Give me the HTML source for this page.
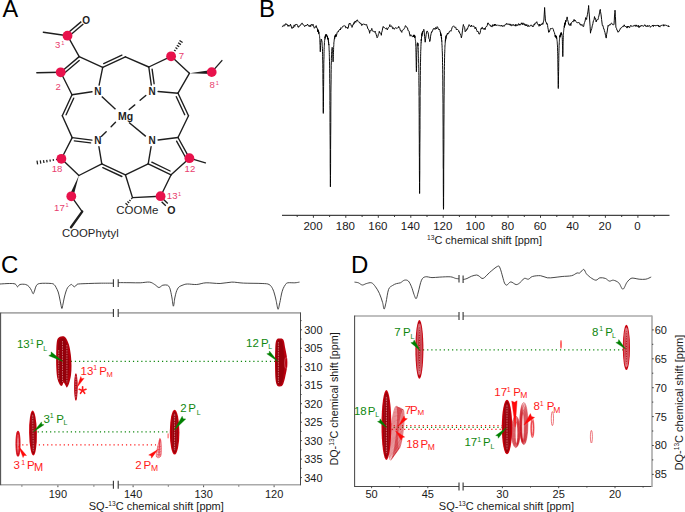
<!DOCTYPE html>
<html><head><meta charset="utf-8"><style>
html,body{margin:0;padding:0;background:#fff;width:685px;height:512px;overflow:hidden;}
svg{display:block;font-family:"Liberation Sans", sans-serif;}
</style></head><body>
<svg width="685" height="512" viewBox="0 0 685 512" font-family='"Liberation Sans", sans-serif'><text x="2.5" y="16.6" font-size="23.5" fill="#000" text-anchor="start" font-weight="normal" >A</text>
<text x="259.0" y="16.6" font-size="24" fill="#000" text-anchor="start" font-weight="normal" >B</text>
<text x="1.1" y="272.5" font-size="24" fill="#000" text-anchor="start" font-weight="normal" >C</text>
<text x="350.9" y="272.7" font-size="24" fill="#000" text-anchor="start" font-weight="normal" >D</text>
<g><line x1="72.0" y1="94.7" x2="60.7" y2="72.3" stroke="#1e1e1e" stroke-width="1.38" stroke-linecap="round"/><line x1="60.7" y1="72.3" x2="79.2" y2="56.6" stroke="#1e1e1e" stroke-width="1.38" stroke-linecap="round"/><line x1="64.5" y1="73.0" x2="79.2" y2="60.5" stroke="#1e1e1e" stroke-width="1.38" stroke-linecap="round"/><line x1="79.2" y1="56.6" x2="102.7" y2="67.4" stroke="#1e1e1e" stroke-width="1.38" stroke-linecap="round"/><line x1="102.7" y1="67.4" x2="99.1" y2="85.1" stroke="#1e1e1e" stroke-width="1.38" stroke-linecap="round"/><line x1="92.0" y1="91.8" x2="72.0" y2="94.7" stroke="#1e1e1e" stroke-width="1.38" stroke-linecap="round"/><line x1="102.7" y1="67.4" x2="125.4" y2="56.8" stroke="#1e1e1e" stroke-width="1.38" stroke-linecap="round"/><line x1="103.7" y1="63.6" x2="121.9" y2="55.1" stroke="#1e1e1e" stroke-width="1.38" stroke-linecap="round"/><line x1="125.4" y1="56.8" x2="148.8" y2="67.0" stroke="#1e1e1e" stroke-width="1.38" stroke-linecap="round"/><line x1="148.8" y1="67.0" x2="171.1" y2="56.3" stroke="#1e1e1e" stroke-width="1.38" stroke-linecap="round"/><line x1="171.1" y1="56.3" x2="189.4" y2="73.3" stroke="#1e1e1e" stroke-width="1.38" stroke-linecap="round"/><line x1="189.4" y1="73.3" x2="178.0" y2="93.2" stroke="#1e1e1e" stroke-width="1.38" stroke-linecap="round"/><line x1="178.0" y1="93.2" x2="158.1" y2="91.5" stroke="#1e1e1e" stroke-width="1.38" stroke-linecap="round"/><line x1="151.3" y1="85.1" x2="148.8" y2="67.0" stroke="#1e1e1e" stroke-width="1.38" stroke-linecap="round"/><line x1="154.1" y1="83.7" x2="152.1" y2="69.1" stroke="#1e1e1e" stroke-width="1.38" stroke-linecap="round"/><line x1="178.0" y1="93.2" x2="188.5" y2="115.7" stroke="#1e1e1e" stroke-width="1.38" stroke-linecap="round"/><line x1="176.3" y1="96.7" x2="184.7" y2="114.7" stroke="#1e1e1e" stroke-width="1.38" stroke-linecap="round"/><line x1="188.5" y1="115.7" x2="178.0" y2="137.5" stroke="#1e1e1e" stroke-width="1.38" stroke-linecap="round"/><line x1="178.0" y1="137.5" x2="189.4" y2="158.2" stroke="#1e1e1e" stroke-width="1.38" stroke-linecap="round"/><line x1="176.6" y1="141.1" x2="185.6" y2="157.5" stroke="#1e1e1e" stroke-width="1.38" stroke-linecap="round"/><line x1="189.4" y1="158.2" x2="171.1" y2="174.8" stroke="#1e1e1e" stroke-width="1.38" stroke-linecap="round"/><line x1="171.1" y1="174.8" x2="148.2" y2="163.8" stroke="#1e1e1e" stroke-width="1.38" stroke-linecap="round"/><line x1="170.1" y1="171.0" x2="151.8" y2="162.2" stroke="#1e1e1e" stroke-width="1.38" stroke-linecap="round"/><line x1="148.2" y1="163.8" x2="151.1" y2="146.7" stroke="#1e1e1e" stroke-width="1.38" stroke-linecap="round"/><line x1="158.1" y1="140.0" x2="178.0" y2="137.5" stroke="#1e1e1e" stroke-width="1.38" stroke-linecap="round"/><line x1="171.1" y1="174.8" x2="160.6" y2="196.2" stroke="#1e1e1e" stroke-width="1.38" stroke-linecap="round"/><line x1="160.6" y1="196.2" x2="132.5" y2="197.6" stroke="#1e1e1e" stroke-width="1.38" stroke-linecap="round"/><line x1="132.5" y1="197.6" x2="125.4" y2="174.8" stroke="#1e1e1e" stroke-width="1.38" stroke-linecap="round"/><line x1="125.4" y1="174.8" x2="148.2" y2="163.8" stroke="#1e1e1e" stroke-width="1.38" stroke-linecap="round"/><line x1="125.4" y1="174.8" x2="101.8" y2="163.8" stroke="#1e1e1e" stroke-width="1.38" stroke-linecap="round"/><line x1="121.9" y1="176.5" x2="102.8" y2="167.6" stroke="#1e1e1e" stroke-width="1.38" stroke-linecap="round"/><line x1="101.8" y1="163.8" x2="78.9" y2="175.5" stroke="#1e1e1e" stroke-width="1.38" stroke-linecap="round"/><line x1="78.9" y1="175.5" x2="61.4" y2="158.8" stroke="#1e1e1e" stroke-width="1.38" stroke-linecap="round"/><line x1="61.4" y1="158.8" x2="72.2" y2="137.6" stroke="#1e1e1e" stroke-width="1.38" stroke-linecap="round"/><line x1="72.2" y1="137.6" x2="91.9" y2="140.1" stroke="#1e1e1e" stroke-width="1.38" stroke-linecap="round"/><line x1="74.3" y1="140.9" x2="90.6" y2="142.9" stroke="#1e1e1e" stroke-width="1.38" stroke-linecap="round"/><line x1="98.9" y1="146.7" x2="101.8" y2="163.8" stroke="#1e1e1e" stroke-width="1.38" stroke-linecap="round"/><line x1="72.2" y1="137.6" x2="62.3" y2="115.8" stroke="#1e1e1e" stroke-width="1.38" stroke-linecap="round"/><line x1="62.3" y1="115.8" x2="72.0" y2="94.7" stroke="#1e1e1e" stroke-width="1.38" stroke-linecap="round"/><line x1="66.1" y1="114.8" x2="73.7" y2="98.2" stroke="#1e1e1e" stroke-width="1.38" stroke-linecap="round"/><line x1="101.8" y1="96.4" x2="115.5" y2="109.3" stroke="#1e1e1e" stroke-width="1.38"/><line x1="129.0" y1="122.5" x2="145.8" y2="136.4" stroke="#1e1e1e" stroke-width="1.38"/><line x1="145.8" y1="95.4" x2="140.1" y2="100.3" stroke="#1e1e1e" stroke-width="1.38" stroke-linecap="round"/><line x1="134.8" y1="104.9" x2="129.2" y2="109.5" stroke="#1e1e1e" stroke-width="1.38" stroke-linecap="round"/><line x1="115.5" y1="122.2" x2="111.1" y2="126.8" stroke="#1e1e1e" stroke-width="1.38" stroke-linecap="round"/><line x1="106.2" y1="131.7" x2="101.6" y2="136.3" stroke="#1e1e1e" stroke-width="1.38" stroke-linecap="round"/><line x1="36.8" y1="72.7" x2="60.7" y2="72.3" stroke="#1e1e1e" stroke-width="1.38" stroke-linecap="round"/><line x1="79.2" y1="56.6" x2="67.5" y2="35.7" stroke="#1e1e1e" stroke-width="1.38" stroke-linecap="round"/><line x1="43.3" y1="32.2" x2="67.5" y2="35.7" stroke="#1e1e1e" stroke-width="1.38" stroke-linecap="round"/><line x1="69.5" y1="35.7" x2="83.3" y2="24.0" stroke="#1e1e1e" stroke-width="1.38"/><line x1="67.5" y1="33.3" x2="81.3" y2="21.6" stroke="#1e1e1e" stroke-width="1.38"/><text x="86.2" y="24.2" font-size="10" fill="#1e1e1e" text-anchor="middle" font-weight="bold" >O</text><line x1="171.4" y1="54.9" x2="172.3" y2="55.4" stroke="#1e1e1e" stroke-width="1.25"/><line x1="172.8" y1="52.5" x2="174.0" y2="53.3" stroke="#1e1e1e" stroke-width="1.25"/><line x1="174.1" y1="50.0" x2="175.7" y2="51.1" stroke="#1e1e1e" stroke-width="1.25"/><line x1="175.5" y1="47.6" x2="177.4" y2="49.0" stroke="#1e1e1e" stroke-width="1.25"/><line x1="176.8" y1="45.2" x2="179.2" y2="46.8" stroke="#1e1e1e" stroke-width="1.25"/><line x1="178.1" y1="42.8" x2="180.9" y2="44.6" stroke="#1e1e1e" stroke-width="1.25"/><line x1="179.5" y1="40.4" x2="182.6" y2="42.5" stroke="#1e1e1e" stroke-width="1.25"/><polygon points="189.4,73.3 211.8,74.1 211.6,70.1" fill="#1e1e1e"/><line x1="211.7" y1="72.1" x2="221.9" y2="60.6" stroke="#1e1e1e" stroke-width="1.38" stroke-linecap="round"/><line x1="189.4" y1="158.2" x2="205.4" y2="162.8" stroke="#1e1e1e" stroke-width="1.38" stroke-linecap="round"/><line x1="59.9" y1="159.5" x2="59.7" y2="158.6" stroke="#1e1e1e" stroke-width="1.25"/><line x1="56.7" y1="160.2" x2="56.5" y2="158.9" stroke="#1e1e1e" stroke-width="1.25"/><line x1="53.5" y1="160.9" x2="53.2" y2="159.2" stroke="#1e1e1e" stroke-width="1.25"/><line x1="50.3" y1="161.6" x2="50.0" y2="159.5" stroke="#1e1e1e" stroke-width="1.25"/><line x1="47.1" y1="162.3" x2="46.7" y2="159.8" stroke="#1e1e1e" stroke-width="1.25"/><line x1="44.0" y1="163.0" x2="43.5" y2="160.1" stroke="#1e1e1e" stroke-width="1.25"/><line x1="40.8" y1="163.7" x2="40.3" y2="160.4" stroke="#1e1e1e" stroke-width="1.25"/><line x1="37.6" y1="164.4" x2="37.0" y2="160.7" stroke="#1e1e1e" stroke-width="1.25"/><polygon points="78.9,175.5 69.4,195.6 73.2,197.0" fill="#1e1e1e"/><line x1="71.3" y1="196.3" x2="82.2" y2="211.6" stroke="#1e1e1e" stroke-width="1.38" stroke-linecap="round"/><line x1="82.2" y1="211.6" x2="71.0" y2="227.3" stroke="#1e1e1e" stroke-width="2.4" stroke-linecap="round"/><line x1="132.1" y1="198.9" x2="131.2" y2="198.2" stroke="#1e1e1e" stroke-width="1.25"/><line x1="130.6" y1="201.0" x2="129.3" y2="199.9" stroke="#1e1e1e" stroke-width="1.25"/><line x1="129.2" y1="203.1" x2="127.4" y2="201.6" stroke="#1e1e1e" stroke-width="1.25"/><line x1="127.8" y1="205.2" x2="125.5" y2="203.3" stroke="#1e1e1e" stroke-width="1.25"/><line x1="161.6" y1="201.7" x2="165.8" y2="205.7" stroke="#1e1e1e" stroke-width="1.38"/><line x1="163.6" y1="199.5" x2="167.8" y2="203.5" stroke="#1e1e1e" stroke-width="1.38"/><text x="97.9" y="94.6" font-size="10" fill="#1e1e1e" text-anchor="middle" font-weight="bold" >N</text><text x="152.1" y="94.6" font-size="10" fill="#1e1e1e" text-anchor="middle" font-weight="bold" >N</text><text x="152.1" y="144.4" font-size="10" fill="#1e1e1e" text-anchor="middle" font-weight="bold" >N</text><text x="97.9" y="144.4" font-size="10" fill="#1e1e1e" text-anchor="middle" font-weight="bold" >N</text><text x="125.5" y="120.3" font-size="10.5" fill="#1e1e1e" text-anchor="middle" font-weight="bold" >Mg</text><text x="171.4" y="214.4" font-size="10.6" fill="#1e1e1e" text-anchor="middle" font-weight="bold" >O</text><text x="116.3" y="214.3" font-size="10.2" fill="#1e1e1e" text-anchor="start" font-weight="normal" textLength="42" lengthAdjust="spacingAndGlyphs">COOMe</text><text x="62.1" y="236.9" font-size="11" fill="#1e1e1e" text-anchor="start" font-weight="normal" textLength="56.6" lengthAdjust="spacingAndGlyphs">COOPhytyl</text><circle cx="67.5" cy="35.7" r="4.9" fill="#e8124c"/><circle cx="60.7" cy="72.3" r="4.9" fill="#e8124c"/><circle cx="171.1" cy="56.3" r="4.9" fill="#e8124c"/><circle cx="211.7" cy="72.1" r="4.9" fill="#e8124c"/><circle cx="61.4" cy="158.8" r="4.9" fill="#e8124c"/><circle cx="71.3" cy="196.3" r="4.9" fill="#e8124c"/><circle cx="189.4" cy="158.2" r="4.9" fill="#e8124c"/><circle cx="160.6" cy="196.2" r="4.9" fill="#e8124c"/><text x="55.04" y="47.90" font-size="9.6" fill="#e8406e">3</text><text x="61.17" y="44.60" font-size="5.6" fill="#e8406e">1</text><text x="55.42" y="89.70" font-size="9.6" fill="#e8406e">2</text><text x="178.81" y="58.80" font-size="9.6" fill="#e8406e">7</text><text x="209.59" y="88.00" font-size="9.6" fill="#e8406e">8</text><text x="215.87" y="84.60" font-size="5.6" fill="#e8406e">1</text><text x="51.67" y="171.70" font-size="9.6" fill="#e8406e">18</text><text x="54.07" y="210.60" font-size="9.6" fill="#e8406e">17</text><text x="65.57" y="207.30" font-size="5.6" fill="#e8406e">1</text><text x="184.57" y="172.20" font-size="9.6" fill="#e8406e">12</text><text x="166.87" y="198.80" font-size="9.6" fill="#e8406e">13</text><text x="178.07" y="195.60" font-size="5.6" fill="#e8406e">1</text></g>
<line x1="282.0" y1="215.4" x2="669.5" y2="215.4" stroke="#444" stroke-width="1.1"/>
<line x1="654.1" y1="215.5" x2="654.1" y2="217.0" stroke="#222" stroke-width="0.9"/>
<line x1="637.9" y1="215.5" x2="637.9" y2="217.8" stroke="#222" stroke-width="0.9"/>
<line x1="621.7" y1="215.5" x2="621.7" y2="217.0" stroke="#222" stroke-width="0.9"/>
<line x1="605.4" y1="215.5" x2="605.4" y2="217.8" stroke="#222" stroke-width="0.9"/>
<line x1="589.2" y1="215.5" x2="589.2" y2="217.0" stroke="#222" stroke-width="0.9"/>
<line x1="573.0" y1="215.5" x2="573.0" y2="217.8" stroke="#222" stroke-width="0.9"/>
<line x1="556.8" y1="215.5" x2="556.8" y2="217.0" stroke="#222" stroke-width="0.9"/>
<line x1="540.5" y1="215.5" x2="540.5" y2="217.8" stroke="#222" stroke-width="0.9"/>
<line x1="524.3" y1="215.5" x2="524.3" y2="217.0" stroke="#222" stroke-width="0.9"/>
<line x1="508.1" y1="215.5" x2="508.1" y2="217.8" stroke="#222" stroke-width="0.9"/>
<line x1="491.9" y1="215.5" x2="491.9" y2="217.0" stroke="#222" stroke-width="0.9"/>
<line x1="475.6" y1="215.5" x2="475.6" y2="217.8" stroke="#222" stroke-width="0.9"/>
<line x1="459.4" y1="215.5" x2="459.4" y2="217.0" stroke="#222" stroke-width="0.9"/>
<line x1="443.2" y1="215.5" x2="443.2" y2="217.8" stroke="#222" stroke-width="0.9"/>
<line x1="427.0" y1="215.5" x2="427.0" y2="217.0" stroke="#222" stroke-width="0.9"/>
<line x1="410.8" y1="215.5" x2="410.8" y2="217.8" stroke="#222" stroke-width="0.9"/>
<line x1="394.5" y1="215.5" x2="394.5" y2="217.0" stroke="#222" stroke-width="0.9"/>
<line x1="378.3" y1="215.5" x2="378.3" y2="217.8" stroke="#222" stroke-width="0.9"/>
<line x1="362.1" y1="215.5" x2="362.1" y2="217.0" stroke="#222" stroke-width="0.9"/>
<line x1="345.8" y1="215.5" x2="345.8" y2="217.8" stroke="#222" stroke-width="0.9"/>
<line x1="329.6" y1="215.5" x2="329.6" y2="217.0" stroke="#222" stroke-width="0.9"/>
<line x1="313.4" y1="215.5" x2="313.4" y2="217.8" stroke="#222" stroke-width="0.9"/>
<line x1="297.2" y1="215.5" x2="297.2" y2="217.0" stroke="#222" stroke-width="0.9"/>
<text x="313.0" y="229.8" font-size="11.5" fill="#1a1a1a" text-anchor="middle" font-weight="normal" >200</text>
<text x="345.4" y="229.8" font-size="11.5" fill="#1a1a1a" text-anchor="middle" font-weight="normal" >180</text>
<text x="377.9" y="229.8" font-size="11.5" fill="#1a1a1a" text-anchor="middle" font-weight="normal" >160</text>
<text x="410.4" y="229.8" font-size="11.5" fill="#1a1a1a" text-anchor="middle" font-weight="normal" >140</text>
<text x="442.8" y="229.8" font-size="11.5" fill="#1a1a1a" text-anchor="middle" font-weight="normal" >120</text>
<text x="475.2" y="229.8" font-size="11.5" fill="#1a1a1a" text-anchor="middle" font-weight="normal" >100</text>
<text x="507.7" y="229.8" font-size="11.5" fill="#1a1a1a" text-anchor="middle" font-weight="normal" >80</text>
<text x="540.1" y="229.8" font-size="11.5" fill="#1a1a1a" text-anchor="middle" font-weight="normal" >60</text>
<text x="572.6" y="229.8" font-size="11.5" fill="#1a1a1a" text-anchor="middle" font-weight="normal" >40</text>
<text x="605.0" y="229.8" font-size="11.5" fill="#1a1a1a" text-anchor="middle" font-weight="normal" >20</text>
<text x="637.5" y="229.8" font-size="11.5" fill="#1a1a1a" text-anchor="middle" font-weight="normal" >0</text>
<text x="427.0" y="244.3" font-size="11.5" fill="#1a1a1a" textLength="115" lengthAdjust="spacingAndGlyphs"><tspan font-size="7" dy="-4">13</tspan><tspan dy="4">C chemical shift [ppm]</tspan></text>
<polyline points="282.1,27.1 282.6,26.3 283.2,25.5 283.8,26.3 284.1,25.7 284.3,24.6 284.9,25.4 285.4,24.6 285.9,23.5 286.2,24.4 286.5,24.8 287.1,24.2 287.6,25.7 288.1,25.4 288.2,26.4 288.7,25.1 289.2,25.6 289.8,26.2 290.3,25.0 290.4,24.2 290.9,25.2 291.4,27.0 292.0,28.5 292.3,27.8 292.6,27.8 293.1,26.8 293.6,27.6 294.2,24.9 294.4,25.7 294.8,26.4 295.3,24.7 295.9,24.0 296.4,24.5 296.9,24.2 297.5,25.4 298.1,27.3 298.5,27.2 298.6,26.3 299.1,26.7 299.7,26.2 300.2,25.0 300.5,25.1 300.8,25.0 301.4,23.5 301.9,23.2 302.4,23.2 302.6,23.8 303.0,24.8 303.6,24.9 304.1,25.4 304.6,26.5 304.6,26.7 305.2,26.0 305.8,25.2 306.3,26.0 306.9,25.3 307.3,24.5 307.4,24.0 307.9,25.1 308.5,25.4 309.1,26.5 309.4,25.9 309.6,26.3 310.1,25.1 310.7,26.6 311.2,24.3 311.8,24.8 312.4,25.4 312.8,24.7 312.9,24.1 313.4,26.3 314.0,26.5 314.2,28.2 314.6,28.1 315.1,27.6 315.6,26.4 316.2,25.6 316.8,28.0 317.3,28.2 317.4,29.3 317.4,29.3 317.5,29.4 317.5,29.3 317.6,30.4 317.7,30.8 317.7,29.9 317.8,30.5 317.8,29.3 317.9,30.8 317.9,30.8 318.0,31.9 318.0,31.6 318.1,30.5 318.1,31.0 318.2,31.9 318.3,30.5 318.3,31.8 318.3,31.7 318.4,31.2 318.4,31.1 318.4,31.0 318.5,32.8 318.6,31.5 318.6,31.9 318.7,32.4 318.7,33.7 318.8,31.9 318.9,33.1 318.9,33.3 318.9,33.6 319.0,33.6 319.0,33.9 319.1,33.8 319.2,34.1 319.2,34.3 319.3,34.8 319.3,35.2 319.4,35.3 319.5,35.5 319.5,35.8 319.5,36.0 319.6,36.5 319.6,37.2 319.7,38.0 319.8,38.7 319.8,39.5 319.9,40.9 319.9,42.3 320.0,44.1 320.1,45.8 320.1,46.0 320.1,48.0 320.2,49.9 320.2,51.4 320.3,51.7 320.4,51.8 320.4,50.6 320.5,49.0 320.5,47.2 320.6,45.4 320.7,44.1 320.7,42.8 320.8,42.2 320.8,41.2 320.9,40.7 321.0,40.4 321.0,40.3 321.0,40.0 321.1,39.8 321.1,39.5 321.1,39.4 321.2,39.3 321.3,39.2 321.3,39.3 321.4,39.1 321.4,39.6 321.5,39.5 321.6,39.4 321.6,39.6 321.7,39.9 321.7,39.9 321.7,40.0 321.8,41.3 321.9,41.1 321.9,41.2 322.0,41.7 322.0,41.9 322.0,42.1 322.1,42.8 322.2,43.7 322.2,44.5 322.2,45.3 322.3,45.5 322.3,46.6 322.4,48.5 322.5,50.0 322.5,51.7 322.6,54.2 322.6,56.7 322.7,60.1 322.8,64.2 322.8,67.0 322.8,68.5 322.9,73.6 322.9,79.8 323.0,86.5 323.1,94.1 323.1,101.2 323.2,107.7 323.2,111.9 323.3,113.4 323.4,112.6 323.4,112.2 323.4,107.7 323.5,101.2 323.5,94.0 323.6,86.6 323.7,79.4 323.7,73.4 323.8,68.0 323.8,63.3 323.9,59.5 324.0,56.3 324.0,53.6 324.1,51.4 324.1,49.6 324.2,47.6 324.3,46.4 324.3,45.2 324.4,44.0 324.4,42.8 324.4,42.6 324.5,41.9 324.6,41.1 324.6,40.5 324.7,40.1 324.7,39.7 324.8,39.9 324.9,38.6 324.9,38.6 325.0,38.7 325.0,36.8 325.0,38.0 325.1,38.4 325.2,37.8 325.2,37.5 325.3,36.6 325.3,35.7 325.4,37.0 325.5,35.8 325.5,36.7 325.6,37.1 325.6,35.6 325.6,35.5 325.7,36.7 325.8,36.1 325.8,34.7 325.9,34.5 325.9,34.5 326.0,36.2 326.1,35.9 326.1,34.3 326.1,35.9 326.2,36.2 326.2,35.4 326.5,34.9 326.6,34.8 327.2,36.4 327.4,36.0 327.5,35.9 327.5,38.4 327.6,37.8 327.6,37.7 327.7,38.9 327.8,37.9 327.8,39.0 327.8,39.1 327.9,37.9 327.9,38.7 327.9,38.2 328.0,38.5 328.1,38.6 328.1,39.7 328.2,39.2 328.2,39.8 328.3,39.4 328.4,41.6 328.4,40.7 328.5,41.3 328.5,42.0 328.6,43.3 328.7,42.6 328.7,44.4 328.8,44.0 328.8,44.8 328.9,44.9 328.9,44.4 329.0,46.4 329.0,47.2 329.1,48.2 329.1,49.8 329.2,50.9 329.3,52.6 329.3,54.6 329.4,56.6 329.4,57.2 329.4,58.9 329.5,61.7 329.6,65.1 329.6,68.5 329.7,73.2 329.7,78.3 329.8,84.5 329.9,92.0 329.9,100.5 329.9,105.4 330.0,110.8 330.0,122.5 330.1,135.3 330.2,149.4 330.2,163.2 330.3,175.3 330.3,183.9 330.4,186.8 330.5,183.8 330.5,178.7 330.5,175.6 330.6,163.4 330.6,149.7 330.7,135.9 330.8,122.6 330.8,111.1 330.9,101.3 330.9,92.7 331.0,85.1 331.1,79.9 331.1,79.2 331.1,73.8 331.2,69.6 331.2,65.8 331.3,63.0 331.4,60.4 331.4,58.2 331.5,55.9 331.5,54.5 331.6,53.1 331.7,51.6 331.7,51.0 331.8,50.1 331.8,49.1 331.9,48.8 332.0,48.1 332.0,47.8 332.1,47.8 332.1,47.7 332.1,47.3 332.2,47.5 332.3,47.7 332.3,47.9 332.4,48.2 332.4,48.9 332.5,49.8 332.6,50.4 332.6,51.8 332.7,53.0 332.7,53.3 332.7,54.5 332.8,56.2 332.9,57.8 332.9,59.2 333.0,60.9 333.0,61.6 333.1,61.8 333.2,60.9 333.2,59.9 333.2,59.0 333.3,58.6 333.3,56.5 333.4,54.4 333.5,52.6 333.5,51.0 333.6,49.3 333.6,47.5 333.7,46.1 333.8,45.3 333.8,44.5 333.8,44.2 333.9,43.0 333.9,42.2 334.0,41.8 334.1,41.1 334.1,40.4 334.2,40.4 334.2,39.8 334.3,39.5 334.4,38.9 334.4,39.2 334.4,38.5 334.5,38.6 334.5,38.2 334.6,37.6 334.7,37.9 334.7,38.6 334.8,36.8 334.8,36.4 334.9,37.2 335.0,36.3 335.0,35.9 335.1,35.9 335.1,35.5 335.2,35.8 335.3,36.0 335.3,35.9 335.4,36.9 335.4,35.7 335.4,36.2 335.5,35.3 335.6,35.7 335.6,34.8 335.7,35.3 335.7,34.7 335.8,36.4 335.9,35.9 335.9,35.0 336.0,35.6 336.0,36.7 336.0,34.7 336.1,35.6 336.6,35.1 337.1,32.7 337.4,32.2 337.6,31.8 338.2,32.0 338.8,30.3 339.3,29.9 339.9,29.8 340.2,29.0 340.4,29.9 340.9,27.7 341.5,28.3 342.1,27.4 342.6,26.6 342.9,26.0 343.1,25.9 343.7,26.0 344.2,25.6 344.8,26.0 345.4,26.1 345.6,27.3 345.9,28.1 346.4,27.3 347.0,27.4 347.6,27.6 347.7,28.7 348.1,28.0 348.6,26.0 349.0,23.8 349.2,24.2 349.8,23.1 350.0,23.5 350.3,23.5 350.9,24.7 351.4,26.1 351.9,26.5 352.0,27.4 352.5,26.0 353.1,24.2 353.6,24.5 353.9,22.6 354.1,23.6 354.7,22.1 355.2,21.0 355.8,22.4 356.4,20.4 356.8,20.6 356.9,20.3 357.4,19.9 358.0,21.3 358.6,22.0 359.1,22.5 359.6,22.2 359.8,23.1 360.2,23.6 360.8,23.1 361.3,24.4 361.7,25.5 361.9,24.4 362.4,25.1 362.9,24.1 363.5,23.9 364.1,24.5 364.6,24.2 365.1,25.0 365.7,24.7 366.2,25.1 366.6,24.5 366.8,25.4 367.4,27.0 367.9,28.9 368.4,29.2 369.0,30.5 369.5,32.3 369.6,33.3 370.1,30.5 370.6,31.1 371.2,30.1 371.5,29.4 371.8,28.4 372.3,30.8 372.9,31.3 373.4,31.1 373.9,31.7 374.5,32.3 375.1,31.1 375.4,32.3 375.6,32.8 376.1,34.2 376.7,36.4 377.2,37.8 377.3,37.2 377.8,36.5 378.4,34.3 378.9,33.4 379.3,31.3 379.4,32.0 380.0,33.1 380.6,33.1 381.1,33.7 381.3,35.3 381.6,32.8 382.2,30.8 382.8,27.6 383.2,26.5 383.3,27.3 383.9,27.1 384.4,27.7 384.9,28.1 385.5,28.6 386.1,28.6 386.6,27.8 387.1,29.4 387.1,30.0 387.7,29.2 388.2,27.8 388.8,27.2 389.4,26.7 389.9,24.6 390.0,25.5 390.4,26.5 391.0,25.8 391.6,26.0 392.1,26.9 392.6,28.6 393.0,28.4 393.2,27.6 393.8,28.8 394.3,29.3 394.9,28.1 395.4,27.7 395.9,27.8 396.5,28.2 397.1,28.4 397.6,27.9 398.1,27.9 398.7,26.4 398.8,27.4 399.2,27.3 399.8,28.5 400.4,30.6 400.9,30.4 401.4,31.9 401.8,32.4 402.0,30.8 402.6,30.0 403.1,29.6 403.6,29.6 404.2,28.7 404.8,27.7 405.3,25.8 405.7,25.7 405.9,26.0 406.4,26.8 406.9,27.7 407.5,27.9 408.1,30.7 408.6,30.7 409.1,31.4 409.7,34.8 410.2,36.2 410.5,35.8 410.8,34.6 411.4,35.6 411.9,36.4 412.4,36.7 413.0,35.5 413.4,35.2 413.5,35.1 413.5,35.8 413.5,36.9 413.6,35.1 413.6,36.0 413.6,35.0 413.7,35.9 413.8,36.9 413.8,35.0 413.9,36.6 413.9,35.9 414.0,36.9 414.1,36.4 414.1,35.3 414.1,37.0 414.2,36.0 414.2,34.9 414.3,34.9 414.4,36.2 414.4,36.1 414.5,35.9 414.5,35.6 414.6,36.1 414.6,36.2 414.7,37.4 414.7,35.5 414.8,37.5 414.8,37.8 414.9,36.3 415.0,37.6 415.0,37.7 415.1,38.0 415.1,38.0 415.2,38.3 415.3,38.7 415.3,39.4 415.4,39.7 415.4,40.1 415.5,40.8 415.6,41.4 415.6,42.2 415.7,43.2 415.7,44.8 415.8,44.7 415.8,46.3 415.9,47.6 415.9,49.7 416.0,52.2 416.0,54.8 416.1,58.1 416.2,61.9 416.2,65.4 416.3,68.5 416.3,69.3 416.3,70.8 416.4,71.7 416.5,70.8 416.5,68.8 416.6,65.4 416.6,64.7 416.6,62.3 416.7,61.3 416.7,59.0 416.7,57.8 416.8,55.7 416.8,55.2 416.8,53.1 416.8,52.5 416.9,52.1 416.9,51.0 416.9,50.5 416.9,49.5 417.0,48.6 417.0,47.8 417.0,47.2 417.1,46.5 417.1,46.1 417.1,45.3 417.1,45.1 417.2,44.6 417.2,44.7 417.2,44.1 417.3,43.8 417.3,43.8 417.3,43.8 417.4,43.3 417.4,43.0 417.4,43.0 417.4,42.9 417.4,42.9 417.5,42.7 417.5,42.8 417.5,42.8 417.6,42.9 417.6,43.1 417.6,43.1 417.7,43.0 417.7,43.1 417.7,43.3 417.7,43.3 417.8,43.5 417.8,43.4 417.8,43.8 417.9,44.3 417.9,43.4 417.9,44.5 417.9,45.1 418.0,45.7 418.0,44.4 418.0,44.9 418.0,45.1 418.1,46.0 418.1,46.4 418.1,47.3 418.2,47.5 418.2,48.2 418.2,48.1 418.3,48.9 418.3,49.6 418.3,50.6 418.3,50.9 418.4,51.9 418.4,52.2 418.4,53.5 418.5,54.4 418.5,55.6 418.5,56.4 418.6,57.9 418.6,58.4 418.6,60.1 418.6,61.0 418.7,63.3 418.7,64.4 418.7,66.9 418.8,68.1 418.8,70.8 418.8,72.4 418.9,75.5 418.9,77.2 418.9,80.8 418.9,83.2 419.0,87.4 419.0,90.1 419.0,95.2 419.1,96.4 419.1,97.8 419.1,103.9 419.1,107.3 419.2,114.4 419.2,117.8 419.2,125.8 419.2,130.2 419.3,139.0 419.3,143.5 419.3,152.7 419.4,157.6 419.4,170.8 419.5,182.5 419.5,190.4 419.6,193.5 419.7,190.4 419.7,182.5 419.8,170.6 419.8,156.9 419.9,142.8 420.0,129.7 420.0,117.3 420.1,106.2 420.1,96.6 420.1,95.4 420.2,88.8 420.3,81.7 420.3,75.6 420.4,70.7 420.4,66.4 420.5,62.3 420.6,58.9 420.6,56.2 420.7,53.8 420.7,53.1 420.7,51.5 420.8,49.9 420.9,48.1 420.9,46.5 421.0,45.0 421.0,44.2 421.1,42.4 421.2,42.7 421.2,40.3 421.2,39.9 421.3,40.8 421.3,39.0 421.4,39.9 421.5,38.1 421.5,36.8 421.6,36.4 421.6,36.4 421.7,36.5 421.8,36.8 421.8,34.6 421.8,35.1 421.9,34.3 421.9,35.8 422.0,33.4 422.1,32.9 422.1,32.7 422.2,33.2 422.2,34.1 422.3,33.9 422.4,33.3 422.4,33.9 422.4,33.5 422.5,31.9 422.5,31.4 422.9,32.1 423.4,30.5 423.8,29.3 424.0,30.0 424.6,36.6 425.1,41.0 425.2,42.2 425.6,38.6 426.2,34.5 426.6,32.1 426.8,31.3 427.3,31.2 427.9,32.2 428.1,32.9 428.4,34.1 428.9,38.6 429.5,39.6 429.7,41.6 430.1,40.8 430.6,36.2 431.1,33.7 431.6,31.7 431.7,32.4 432.2,31.7 432.8,30.1 433.4,28.6 433.9,28.9 434.0,28.9 434.4,28.4 435.0,29.5 435.6,27.5 436.1,27.8 436.6,28.9 437.2,26.6 437.8,27.5 437.9,27.7 438.3,29.0 438.9,29.8 439.4,29.2 439.9,30.4 440.2,32.3 440.5,32.0 440.6,34.3 440.6,32.9 440.7,34.2 440.7,34.8 440.8,33.7 440.9,33.8 440.9,35.7 441.0,35.1 441.0,34.6 441.1,35.7 441.1,35.0 441.2,35.3 441.2,35.0 441.3,37.1 441.3,37.9 441.4,37.7 441.5,38.9 441.5,37.2 441.6,38.3 441.6,39.0 441.6,40.6 441.7,41.3 441.8,40.6 441.8,41.1 441.9,42.4 441.9,43.5 442.0,45.6 442.1,45.6 442.1,47.2 442.1,47.9 442.2,48.6 442.2,50.3 442.3,52.0 442.4,54.0 442.4,56.3 442.5,59.1 442.5,62.4 442.6,65.6 442.7,69.8 442.7,73.2 442.7,74.7 442.8,80.2 442.8,86.7 442.9,94.6 443.0,103.5 443.0,114.2 443.1,126.1 443.1,139.7 443.2,154.1 443.2,166.9 443.3,169.5 443.3,184.7 443.4,197.6 443.4,206.2 443.5,209.3 443.6,206.3 443.6,197.7 443.7,184.9 443.7,170.0 443.8,154.6 443.9,139.8 443.9,126.1 444.0,114.5 444.0,103.9 444.1,95.2 444.2,87.5 444.2,81.1 444.3,75.3 444.3,70.6 444.4,69.9 444.4,66.4 444.5,63.3 444.5,60.1 444.6,57.3 444.6,55.0 444.7,53.3 444.8,51.2 444.8,49.5 444.9,48.4 444.9,47.9 444.9,47.2 445.0,44.9 445.1,44.8 445.1,44.7 445.2,44.0 445.2,43.4 445.3,40.6 445.4,40.6 445.4,39.7 445.4,39.6 445.5,41.2 445.5,39.8 445.6,40.2 445.7,38.5 445.7,39.3 445.8,38.0 445.8,37.2 445.9,38.2 446.0,38.4 446.0,36.2 446.0,37.3 446.1,37.1 446.1,35.9 446.2,36.1 446.3,35.4 446.3,35.4 446.4,35.4 446.4,36.0 446.6,35.9 447.1,34.0 447.6,33.1 447.7,34.3 448.2,33.1 448.8,33.3 449.3,31.5 449.9,31.3 450.4,30.6 450.7,31.0 450.9,31.3 451.5,29.7 452.1,27.6 452.6,26.7 453.1,26.5 453.7,25.8 454.2,26.6 454.8,27.5 455.4,26.9 455.9,27.8 456.4,29.8 456.6,29.5 457.0,29.5 457.6,29.5 458.1,29.8 458.6,30.5 458.6,31.7 459.2,31.4 459.8,33.3 460.3,34.1 460.9,35.5 461.4,37.9 461.5,37.2 461.9,35.4 462.5,30.2 463.1,26.1 463.4,24.5 463.6,25.7 464.1,26.3 464.7,27.7 465.2,31.8 465.4,31.3 465.8,30.5 466.4,30.6 466.9,28.8 467.4,29.2 468.0,27.3 468.6,25.8 469.1,24.6 469.3,25.5 469.6,25.7 470.2,26.0 470.8,26.8 471.3,25.0 471.9,26.4 472.4,25.9 472.9,26.4 473.2,26.5 473.5,25.8 474.1,26.5 474.6,27.4 475.1,28.8 475.7,27.2 476.1,28.4 476.2,28.6 476.8,30.5 477.4,32.0 477.9,31.3 478.4,32.2 479.0,34.2 479.6,34.0 480.1,32.9 480.6,30.4 481.2,28.1 481.8,28.9 482.0,27.3 482.3,27.3 482.9,28.9 483.4,28.6 483.9,29.5 484.5,28.2 484.9,29.3 485.1,29.7 485.6,27.3 486.1,26.6 486.7,26.6 487.2,25.5 487.8,22.9 487.9,23.4 488.4,23.2 488.9,24.2 489.4,25.1 490.0,25.3 490.6,25.3 490.8,26.4 491.1,25.7 491.6,26.7 492.2,26.9 492.8,24.6 493.3,25.7 493.9,25.9 494.4,24.0 494.7,25.0 494.9,25.9 495.5,24.2 496.1,25.4 496.6,25.3 497.1,25.6 497.7,24.9 498.2,25.2 498.6,25.4 498.8,25.7 499.4,25.4 499.9,26.1 500.4,25.8 501.0,25.9 501.6,25.0 502.1,26.6 502.5,26.4 502.6,26.3 503.2,25.4 503.8,26.4 504.3,26.2 504.9,25.1 505.4,24.2 505.9,24.6 506.4,24.4 506.5,23.5 507.1,23.6 507.6,24.4 508.1,23.7 508.7,24.6 509.2,24.9 509.8,23.8 510.3,25.0 510.4,25.4 510.9,24.1 511.4,25.7 512.0,25.9 512.5,25.3 513.1,24.2 513.6,25.4 514.2,25.4 514.8,25.0 515.3,26.2 515.9,24.1 516.4,25.7 517.0,25.9 517.5,25.1 518.0,25.2 518.1,24.4 518.6,23.6 519.1,25.3 519.7,24.0 520.2,25.0 520.8,24.7 521.4,22.8 521.9,24.1 522.0,23.4 522.5,24.6 523.0,22.8 523.5,23.7 524.1,24.9 524.6,23.7 525.2,25.7 525.8,24.4 525.9,25.0 526.3,25.9 526.9,24.5 527.4,25.6 528.0,26.8 528.5,25.3 529.0,25.6 529.6,26.4 529.8,26.4 530.1,25.9 530.7,25.1 531.2,25.3 531.8,25.1 532.4,26.8 532.9,26.1 533.5,26.4 533.7,25.4 534.0,24.3 534.5,25.1 535.1,22.9 535.6,23.2 536.2,22.8 536.7,21.9 536.8,21.7 537.3,23.8 537.9,24.0 538.4,25.0 538.8,25.4 539.0,26.3 539.5,24.1 540.0,26.0 540.6,24.8 541.1,24.0 541.7,24.7 542.2,23.1 542.7,23.5 542.8,24.4 543.4,21.8 543.9,20.1 544.5,9.8 544.6,7.5 545.0,14.2 545.3,18.1 545.5,20.9 545.6,21.6 546.1,21.8 546.6,24.2 547.2,23.6 547.6,25.5 547.8,27.3 548.3,29.7 548.6,32.3 548.9,32.2 549.4,31.9 550.0,29.8 550.5,28.5 551.0,29.1 551.6,28.5 552.1,28.0 552.7,28.3 553.2,28.9 553.4,29.8 553.8,31.3 554.4,32.6 554.9,34.6 555.3,36.9 555.4,35.3 555.4,36.4 555.4,35.7 555.5,36.7 555.5,35.2 555.5,35.2 555.6,36.1 555.7,35.5 555.7,36.2 555.8,35.9 555.8,36.8 555.9,36.9 556.0,36.0 556.0,37.0 556.0,36.7 556.1,36.0 556.1,38.0 556.2,36.4 556.3,36.3 556.3,36.2 556.4,37.7 556.4,38.4 556.5,38.3 556.5,37.6 556.6,37.3 556.6,36.9 556.7,38.6 556.7,38.6 556.8,38.4 556.9,39.2 556.9,39.4 557.0,40.1 557.0,40.4 557.1,40.7 557.2,41.6 557.2,41.9 557.3,42.9 557.3,43.8 557.4,44.8 557.5,45.9 557.5,47.7 557.6,49.0 557.6,51.2 557.6,51.8 557.7,53.3 557.8,56.1 557.8,59.4 557.9,63.0 557.9,67.2 558.0,71.8 558.1,76.2 558.1,80.8 558.2,84.7 558.2,85.6 558.2,87.6 558.3,88.5 558.4,87.5 558.4,84.4 558.5,80.9 558.5,76.2 558.6,71.3 558.7,66.8 558.7,62.5 558.8,60.5 558.8,58.7 558.8,55.5 558.9,52.6 559.0,50.4 559.0,48.6 559.1,46.8 559.1,45.4 559.2,44.0 559.3,42.7 559.3,42.2 559.3,41.8 559.4,41.1 559.4,40.2 559.5,39.4 559.6,39.0 559.6,38.7 559.7,37.9 559.7,37.8 559.8,36.0 559.9,36.3 559.9,36.2 559.9,37.1 560.0,37.3 560.0,36.6 560.1,35.4 560.2,36.5 560.2,35.0 560.3,34.6 560.3,36.0 560.4,35.2 560.5,35.2 560.5,35.1 560.6,35.7 560.6,34.4 560.7,35.2 560.8,34.7 560.8,35.1 560.9,34.0 560.9,34.1 560.9,34.6 561.0,34.2 561.0,33.5 561.1,33.1 561.1,34.0 561.2,32.6 561.2,34.6 561.3,32.7 561.4,33.2 561.4,33.2 561.5,33.6 561.5,33.4 561.5,33.3 561.6,33.3 561.7,33.3 561.7,33.8 561.8,33.9 561.8,34.1 561.9,34.4 562.0,34.4 562.0,35.0 562.0,35.2 562.1,35.7 562.1,36.3 562.2,37.2 562.3,37.8 562.3,39.5 562.4,41.2 562.4,43.2 562.5,45.2 562.6,48.0 562.6,49.9 562.6,50.9 562.7,54.1 562.7,56.1 562.8,56.6 562.9,55.8 562.9,53.4 563.0,50.2 563.0,46.9 563.1,43.9 563.1,42.0 563.2,41.3 563.2,39.1 563.3,37.3 563.3,35.5 563.4,34.3 563.5,33.2 563.5,32.5 563.6,31.6 563.6,30.9 563.7,30.6 563.8,29.9 563.8,29.6 563.9,29.1 563.9,28.4 564.0,28.3 564.1,28.0 564.1,27.9 564.2,27.4 564.2,27.4 564.2,27.3 564.2,27.1 564.3,26.2 564.4,27.4 564.4,25.3 564.5,26.8 564.5,25.0 564.6,24.3 564.7,24.5 564.7,25.6 564.8,25.9 564.8,23.5 564.8,24.5 564.9,24.3 565.0,24.8 565.0,23.1 565.1,23.6 565.1,23.1 565.2,24.0 565.3,22.4 565.3,23.9 565.4,22.2 565.4,21.9 565.4,22.9 565.5,22.2 565.6,22.0 565.6,20.8 565.7,21.9 565.7,20.4 565.9,21.5 566.5,19.5 567.0,17.9 567.1,16.9 567.5,19.4 568.1,21.4 568.6,24.1 568.7,24.6 569.2,24.3 569.8,25.5 570.3,23.5 570.9,25.5 571.0,24.5 571.4,22.7 572.0,22.2 572.5,21.5 573.0,22.1 573.6,20.2 574.0,19.6 574.1,19.4 574.7,21.2 575.2,20.2 575.8,21.4 575.9,21.6 576.4,21.9 576.9,22.7 577.5,22.9 577.9,22.5 578.0,23.0 578.5,22.6 579.1,22.9 579.6,22.9 580.2,24.9 580.8,24.8 580.8,24.4 581.3,25.4 581.9,24.4 582.4,25.4 583.0,26.6 583.5,26.5 583.7,26.4 584.0,24.0 584.6,22.4 585.1,21.0 585.7,17.6 586.2,18.2 586.6,19.5 586.8,17.6 587.4,14.7 587.9,12.0 588.5,7.4 588.6,5.5 589.0,11.8 589.3,15.0 589.5,18.0 590.1,26.3 590.5,33.2 590.6,32.0 591.2,30.1 591.8,28.4 592.3,25.4 592.5,25.4 592.9,23.5 593.4,20.7 594.0,20.2 594.5,16.6 595.0,18.6 595.6,18.5 596.1,22.0 596.4,21.5 596.7,20.0 597.2,19.6 597.8,19.9 598.4,18.4 598.4,17.6 598.9,16.0 599.5,12.9 600.0,10.0 600.3,9.4 600.5,11.7 601.1,14.9 601.6,19.5 602.2,24.3 602.3,25.4 602.8,25.2 603.3,27.2 603.9,29.3 604.2,29.3 604.4,30.7 605.0,32.6 605.5,35.3 606.0,37.4 606.2,38.1 606.6,34.6 607.1,32.0 607.7,27.9 608.1,25.4 608.2,25.9 608.8,26.0 609.4,24.6 609.9,24.7 610.5,24.8 611.0,23.7 611.5,23.0 612.0,23.4 612.1,24.0 612.6,24.6 613.2,24.7 613.8,24.8 614.0,24.4 614.3,20.2 614.5,16.0 614.9,12.4 615.0,10.2 615.4,16.8 615.5,18.0 615.9,27.3 616.0,27.3 616.5,28.3 617.0,30.4 617.6,30.5 617.9,32.2 618.1,31.7 618.7,31.8 619.2,30.9 619.8,30.0 620.4,28.3 620.8,28.3 620.9,28.0 621.5,27.6 622.0,27.4 622.5,26.4 623.1,26.5 623.6,26.6 623.8,25.4 624.2,24.8 624.8,26.2 625.3,26.8 625.9,26.1 626.4,26.6 627.0,28.1 627.5,26.1 627.7,27.3 628.0,27.3 628.6,26.1 629.1,27.4 629.7,27.6 630.0,26.4 630.2,26.4 630.8,25.3 631.4,26.3 631.9,26.0 632.5,26.3 633.0,25.7 633.5,25.9 634.1,26.2 634.6,25.3 635.0,25.2 635.2,25.1 635.8,26.5 636.3,24.9 636.9,26.2 637.4,25.7 638.0,26.8 638.5,25.4 639.0,27.7 639.6,26.3 640.0,26.8 640.1,25.7 640.7,26.1 641.2,26.2 641.8,25.2 642.4,26.0 642.9,25.9 643.5,26.4 644.0,25.4 644.5,25.1 645.0,25.5 645.1,24.9 645.6,26.2 646.2,26.8 646.8,25.9 647.3,25.3 647.9,26.8 648.4,25.9 649.0,25.6 649.5,25.5 650.0,26.5 650.0,27.2 650.6,27.1 651.1,26.5 651.7,25.9 652.2,26.0 652.8,25.0 653.4,26.6 653.9,25.0 654.5,25.5 655.0,25.0 655.5,25.9 656.1,26.0 656.6,25.4 657.2,25.1 657.8,25.8 658.3,25.0 658.9,26.8 659.4,25.8 660.0,27.1 660.0,26.3 660.5,25.7 661.0,25.8 661.6,25.4 662.1,25.7 662.7,25.1 663.2,24.5 663.8,26.2 664.4,25.0 664.9,24.8 665.0,25.4 665.5,25.0 666.0,25.5 666.5,25.4 667.1,26.0 667.6,26.2 668.2,25.5 668.8,27.0 669.3,26.0" fill="none" stroke="#000" stroke-width="0.95" stroke-linejoin="round"/>
<line x1="0.6" y1="312.9" x2="113.4" y2="312.9" stroke="#aaaaaa" stroke-width="1.6"/><line x1="118.2" y1="312.9" x2="300.5" y2="312.9" stroke="#aaaaaa" stroke-width="1.6"/><line x1="0.6" y1="484.8" x2="113.4" y2="484.8" stroke="#aaaaaa" stroke-width="1.6"/><line x1="118.2" y1="484.8" x2="300.5" y2="484.8" stroke="#aaaaaa" stroke-width="1.6"/><line x1="0.6" y1="312.4" x2="0.6" y2="485.3" stroke="#4a4a4a" stroke-width="1.05"/><line x1="300.5" y1="312.4" x2="300.5" y2="485.3" stroke="#4a4a4a" stroke-width="1.05"/><line x1="113.4" y1="308.9" x2="113.4" y2="316.9" stroke="#333" stroke-width="1.1"/><line x1="118.2" y1="308.9" x2="118.2" y2="316.9" stroke="#333" stroke-width="1.1"/><line x1="113.4" y1="480.8" x2="113.4" y2="488.8" stroke="#333" stroke-width="1.1"/><line x1="118.2" y1="480.8" x2="118.2" y2="488.8" stroke="#333" stroke-width="1.1"/>
<line x1="354.6" y1="316.0" x2="459.0" y2="316.0" stroke="#aaaaaa" stroke-width="1.6"/><line x1="463.1" y1="316.0" x2="652.0" y2="316.0" stroke="#aaaaaa" stroke-width="1.6"/><line x1="354.6" y1="486.4" x2="459.0" y2="486.4" stroke="#4a4a4a" stroke-width="1.05"/><line x1="463.1" y1="486.4" x2="652.0" y2="486.4" stroke="#4a4a4a" stroke-width="1.05"/><line x1="354.6" y1="315.5" x2="354.6" y2="486.9" stroke="#4a4a4a" stroke-width="1.05"/><line x1="652.0" y1="315.5" x2="652.0" y2="486.9" stroke="#aaaaaa" stroke-width="1.6"/><line x1="459.0" y1="312.0" x2="459.0" y2="320.0" stroke="#333" stroke-width="1.1"/><line x1="463.1" y1="312.0" x2="463.1" y2="320.0" stroke="#333" stroke-width="1.1"/><line x1="459.0" y1="482.4" x2="459.0" y2="490.4" stroke="#333" stroke-width="1.1"/><line x1="463.1" y1="482.4" x2="463.1" y2="490.4" stroke="#333" stroke-width="1.1"/>
<path d="M0.00,284.00 C1.55,283.92 6.77,283.50 9.30,283.50 C11.83,283.50 13.83,283.45 15.20,284.00 C16.57,284.55 16.72,286.72 17.50,286.80 C18.28,286.88 18.53,284.88 19.90,284.50 C21.27,284.12 24.15,284.12 25.70,284.50 C27.25,284.88 28.23,285.80 29.20,286.80 C30.17,287.80 30.83,289.33 31.50,290.50 C32.17,291.67 32.65,293.88 33.20,293.80 C33.75,293.72 34.30,291.32 34.80,290.00 C35.30,288.68 35.38,286.98 36.20,285.90 C37.02,284.82 37.17,283.90 39.70,283.50 C42.23,283.10 48.93,283.25 51.40,283.50 C53.87,283.75 53.72,284.33 54.50,285.00 C55.28,285.67 55.48,286.33 56.10,287.50 C56.72,288.67 57.62,290.25 58.20,292.00 C58.78,293.75 59.17,296.00 59.60,298.00 C60.03,300.00 60.42,302.25 60.80,304.00 C61.18,305.75 61.53,308.50 61.90,308.50 C62.27,308.50 62.62,305.75 63.00,304.00 C63.38,302.25 63.73,300.00 64.20,298.00 C64.67,296.00 65.22,293.75 65.80,292.00 C66.38,290.25 66.80,288.75 67.70,287.50 C68.60,286.25 70.32,284.78 71.20,284.50 C72.08,284.22 72.42,285.42 73.00,285.80 C73.58,286.18 74.12,286.93 74.70,286.80 C75.28,286.67 75.90,285.47 76.50,285.00 C77.10,284.53 76.25,284.25 78.30,284.00 C80.35,283.75 85.18,283.63 88.80,283.50 C92.42,283.37 95.90,283.25 100.00,283.20 C104.10,283.15 111.17,283.20 113.40,283.20" fill="none" stroke="#333" stroke-width="0.9"/>
<path d="M118.20,282.60 C120.17,282.62 126.33,282.67 130.00,282.70 C133.67,282.73 136.95,282.90 140.20,282.80 C143.45,282.70 147.08,281.82 149.50,282.10 C151.92,282.38 153.13,283.60 154.70,284.50 C156.27,285.40 157.55,287.38 158.90,287.50 C160.25,287.62 161.37,285.58 162.80,285.20 C164.23,284.82 166.38,284.82 167.50,285.20 C168.62,285.58 168.98,286.53 169.50,287.50 C170.02,288.47 170.18,289.25 170.60,291.00 C171.02,292.75 171.53,295.47 172.00,298.00 C172.47,300.53 172.93,306.20 173.40,306.20 C173.87,306.20 174.33,300.33 174.80,298.00 C175.27,295.67 175.75,293.70 176.20,292.20 C176.65,290.70 177.00,289.90 177.50,289.00 C178.00,288.10 178.28,287.47 179.20,286.80 C180.12,286.13 181.63,285.47 183.00,285.00 C184.37,284.53 185.12,284.08 187.40,284.00 C189.68,283.92 193.58,284.70 196.70,284.50 C199.82,284.30 202.20,282.97 206.10,282.80 C210.00,282.63 215.82,283.62 220.10,283.50 C224.38,283.38 227.92,282.17 231.80,282.10 C235.68,282.03 238.35,282.87 243.40,283.10 C248.45,283.33 257.82,283.27 262.10,283.50 C266.38,283.73 267.35,283.63 269.10,284.50 C270.85,285.37 271.70,287.12 272.60,288.70 C273.50,290.28 273.92,292.05 274.50,294.00 C275.08,295.95 275.52,297.87 276.10,300.40 C276.68,302.93 277.43,308.60 278.00,309.20 C278.57,309.80 279.12,305.47 279.50,304.00 C279.88,302.53 279.97,302.07 280.30,300.40 C280.63,298.73 281.03,295.95 281.50,294.00 C281.97,292.05 282.43,290.28 283.10,288.70 C283.77,287.12 284.72,285.48 285.50,284.50 C286.28,283.52 286.25,283.08 287.80,282.80 C289.35,282.52 292.85,282.92 294.80,282.80 C296.75,282.68 298.72,282.22 299.50,282.10" fill="none" stroke="#333" stroke-width="0.9"/>
<line x1="113.4" y1="279.2" x2="113.4" y2="287.0" stroke="#333" stroke-width="1.1"/>
<line x1="118.2" y1="279.2" x2="118.2" y2="287.0" stroke="#333" stroke-width="1.1"/>
<path d="M354.50,282.10 C355.15,282.22 357.10,282.32 358.40,282.80 C359.70,283.28 360.98,284.87 362.30,285.00 C363.62,285.13 364.77,283.97 366.30,283.60 C367.83,283.23 369.97,282.27 371.50,282.80 C373.03,283.33 374.18,285.03 375.50,286.80 C376.82,288.57 378.22,290.78 379.40,293.40 C380.58,296.02 381.82,299.88 382.60,302.50 C383.38,305.12 383.53,309.10 384.10,309.10 C384.67,309.10 385.25,305.78 386.00,302.50 C386.75,299.22 387.52,292.23 388.60,289.40 C389.68,286.57 391.18,286.47 392.50,285.50 C393.82,284.53 395.18,284.05 396.50,283.60 C397.82,283.15 399.08,283.37 400.40,282.80 C401.72,282.23 403.08,280.50 404.40,280.20 C405.72,279.90 407.12,279.90 408.30,281.00 C409.48,282.10 410.53,284.52 411.50,286.80 C412.47,289.08 413.32,292.73 414.10,294.70 C414.88,296.67 415.50,299.05 416.20,298.60 C416.90,298.15 417.42,295.07 418.30,292.00 C419.18,288.93 420.32,282.73 421.50,280.20 C422.68,277.67 423.65,277.23 425.40,276.80 C427.15,276.37 429.60,277.55 432.00,277.60 C434.40,277.65 436.73,277.23 439.80,277.10 C442.87,276.97 447.77,276.58 450.40,276.80 C453.03,277.02 454.17,278.07 455.60,278.40 C457.03,278.73 458.43,278.73 459.00,278.80" fill="none" stroke="#333" stroke-width="0.9"/>
<path d="M463.10,279.60 C463.75,279.42 465.62,279.05 467.00,278.50 C468.38,277.95 469.80,276.88 471.40,276.30 C473.00,275.72 475.28,275.00 476.60,275.00 C477.92,275.00 478.20,275.73 479.30,276.30 C480.40,276.87 481.45,279.07 483.20,278.40 C484.95,277.73 487.40,274.32 489.80,272.30 C492.20,270.28 495.90,267.02 497.60,266.30 C499.30,265.58 499.15,266.22 500.00,268.00 C500.85,269.78 501.95,274.50 502.70,277.00 C503.45,279.50 503.82,281.65 504.50,283.00 C505.18,284.35 505.75,285.28 506.80,285.10 C507.85,284.92 509.23,281.98 510.80,281.90 C512.37,281.82 514.62,284.52 516.20,284.60 C517.78,284.68 518.95,283.43 520.30,282.40 C521.65,281.37 522.95,278.93 524.30,278.40 C525.65,277.87 527.05,279.52 528.40,279.20 C529.75,278.88 530.38,277.08 532.40,276.50 C534.42,275.92 538.02,275.48 540.50,275.70 C542.98,275.92 545.05,277.50 547.30,277.80 C549.55,278.10 551.53,277.72 554.00,277.50 C556.47,277.28 559.17,276.80 562.10,276.50 C565.03,276.20 569.12,276.28 571.60,275.70 C574.08,275.12 575.65,273.45 577.00,273.00 C578.35,272.55 578.58,273.60 579.70,273.00 C580.82,272.40 582.58,269.27 583.70,269.40 C584.82,269.53 585.27,272.45 586.40,273.80 C587.53,275.15 588.92,276.43 590.50,277.50 C592.08,278.57 594.33,280.15 595.90,280.20 C597.47,280.25 598.33,278.10 599.90,277.80 C601.47,277.50 603.72,277.85 605.30,278.40 C606.88,278.95 608.05,280.80 609.40,281.10 C610.75,281.40 611.83,279.90 613.40,280.20 C614.97,280.50 617.22,281.40 618.80,282.90 C620.38,284.40 621.55,289.28 622.90,289.20 C624.25,289.12 625.55,284.20 626.90,282.40 C628.25,280.60 629.65,279.07 631.00,278.40 C632.35,277.73 633.65,278.27 635.00,278.40 C636.35,278.53 637.30,279.07 639.10,279.20 C640.90,279.33 643.78,279.57 645.80,279.20 C647.82,278.83 650.30,277.37 651.20,277.00" fill="none" stroke="#333" stroke-width="0.9"/>
<line x1="459.0" y1="275.0" x2="459.0" y2="282.5" stroke="#333" stroke-width="1.1"/>
<line x1="463.1" y1="275.5" x2="463.1" y2="283.0" stroke="#333" stroke-width="1.1"/>
<line x1="21.9" y1="485.4" x2="21.9" y2="486.6" stroke="#3a3a3a" stroke-width="0.9"/>
<line x1="57.9" y1="485.4" x2="57.9" y2="487.2" stroke="#3a3a3a" stroke-width="0.9"/>
<line x1="93.9" y1="485.4" x2="93.9" y2="486.6" stroke="#3a3a3a" stroke-width="0.9"/>
<line x1="133.1" y1="485.4" x2="133.1" y2="487.2" stroke="#3a3a3a" stroke-width="0.9"/>
<line x1="168.3" y1="485.4" x2="168.3" y2="486.6" stroke="#3a3a3a" stroke-width="0.9"/>
<line x1="203.6" y1="485.4" x2="203.6" y2="487.2" stroke="#3a3a3a" stroke-width="0.9"/>
<line x1="238.8" y1="485.4" x2="238.8" y2="486.6" stroke="#3a3a3a" stroke-width="0.9"/>
<line x1="274.1" y1="485.4" x2="274.1" y2="487.2" stroke="#3a3a3a" stroke-width="0.9"/>
<text x="57.9" y="497.8" font-size="11" fill="#1a1a1a" text-anchor="middle" font-weight="normal" >190</text>
<text x="133.1" y="497.8" font-size="11" fill="#1a1a1a" text-anchor="middle" font-weight="normal" >140</text>
<text x="203.6" y="497.8" font-size="11" fill="#1a1a1a" text-anchor="middle" font-weight="normal" >130</text>
<text x="274.1" y="497.8" font-size="11" fill="#1a1a1a" text-anchor="middle" font-weight="normal" >120</text>
<line x1="300.5" y1="320.6" x2="301.6" y2="320.6" stroke="#3a3a3a" stroke-width="0.9"/>
<line x1="300.5" y1="329.8" x2="302.0" y2="329.8" stroke="#3a3a3a" stroke-width="0.9"/>
<line x1="300.5" y1="339.0" x2="301.6" y2="339.0" stroke="#3a3a3a" stroke-width="0.9"/>
<line x1="300.5" y1="348.3" x2="302.0" y2="348.3" stroke="#3a3a3a" stroke-width="0.9"/>
<line x1="300.5" y1="357.5" x2="301.6" y2="357.5" stroke="#3a3a3a" stroke-width="0.9"/>
<line x1="300.5" y1="366.8" x2="302.0" y2="366.8" stroke="#3a3a3a" stroke-width="0.9"/>
<line x1="300.5" y1="376.0" x2="301.6" y2="376.0" stroke="#3a3a3a" stroke-width="0.9"/>
<line x1="300.5" y1="385.2" x2="302.0" y2="385.2" stroke="#3a3a3a" stroke-width="0.9"/>
<line x1="300.5" y1="394.5" x2="301.6" y2="394.5" stroke="#3a3a3a" stroke-width="0.9"/>
<line x1="300.5" y1="403.7" x2="302.0" y2="403.7" stroke="#3a3a3a" stroke-width="0.9"/>
<line x1="300.5" y1="412.9" x2="301.6" y2="412.9" stroke="#3a3a3a" stroke-width="0.9"/>
<line x1="300.5" y1="422.2" x2="302.0" y2="422.2" stroke="#3a3a3a" stroke-width="0.9"/>
<line x1="300.5" y1="431.4" x2="301.6" y2="431.4" stroke="#3a3a3a" stroke-width="0.9"/>
<line x1="300.5" y1="440.6" x2="302.0" y2="440.6" stroke="#3a3a3a" stroke-width="0.9"/>
<line x1="300.5" y1="449.9" x2="301.6" y2="449.9" stroke="#3a3a3a" stroke-width="0.9"/>
<line x1="300.5" y1="459.1" x2="302.0" y2="459.1" stroke="#3a3a3a" stroke-width="0.9"/>
<line x1="300.5" y1="468.4" x2="301.6" y2="468.4" stroke="#3a3a3a" stroke-width="0.9"/>
<line x1="300.5" y1="477.6" x2="302.0" y2="477.6" stroke="#3a3a3a" stroke-width="0.9"/>
<text x="304.2" y="333.7" font-size="11" fill="#1a1a1a" text-anchor="start" font-weight="normal" >300</text>
<text x="304.2" y="352.2" font-size="11" fill="#1a1a1a" text-anchor="start" font-weight="normal" >305</text>
<text x="304.2" y="370.6" font-size="11" fill="#1a1a1a" text-anchor="start" font-weight="normal" >310</text>
<text x="304.2" y="389.1" font-size="11" fill="#1a1a1a" text-anchor="start" font-weight="normal" >315</text>
<text x="304.2" y="407.6" font-size="11" fill="#1a1a1a" text-anchor="start" font-weight="normal" >320</text>
<text x="304.2" y="426.1" font-size="11" fill="#1a1a1a" text-anchor="start" font-weight="normal" >325</text>
<text x="304.2" y="444.5" font-size="11" fill="#1a1a1a" text-anchor="start" font-weight="normal" >330</text>
<text x="304.2" y="463.0" font-size="11" fill="#1a1a1a" text-anchor="start" font-weight="normal" >335</text>
<text x="304.2" y="481.5" font-size="11" fill="#1a1a1a" text-anchor="start" font-weight="normal" >340</text>
<text x="156.3" y="509.6" font-size="11" fill="#1a1a1a" text-anchor="middle">SQ-<tspan font-size="6.6" dy="-4">13</tspan><tspan dy="4">C chemical shift [ppm]</tspan></text>
<text transform="translate(338.4,398.9) rotate(-90)" font-size="10.8" fill="#1a1a1a" text-anchor="middle">DQ-<tspan font-size="6.6" dy="-4">13</tspan><tspan dy="4">C chemical shift [ppm]</tspan></text>
<line x1="371.6" y1="486.4" x2="371.6" y2="488.2" stroke="#3a3a3a" stroke-width="0.9"/>
<line x1="399.7" y1="486.4" x2="399.7" y2="487.6" stroke="#3a3a3a" stroke-width="0.9"/>
<line x1="427.8" y1="486.4" x2="427.8" y2="488.2" stroke="#3a3a3a" stroke-width="0.9"/>
<line x1="502.4" y1="486.4" x2="502.4" y2="488.2" stroke="#3a3a3a" stroke-width="0.9"/>
<line x1="530.5" y1="486.4" x2="530.5" y2="487.6" stroke="#3a3a3a" stroke-width="0.9"/>
<line x1="558.7" y1="486.4" x2="558.7" y2="488.2" stroke="#3a3a3a" stroke-width="0.9"/>
<line x1="586.9" y1="486.4" x2="586.9" y2="487.6" stroke="#3a3a3a" stroke-width="0.9"/>
<line x1="615.0" y1="486.4" x2="615.0" y2="488.2" stroke="#3a3a3a" stroke-width="0.9"/>
<line x1="643.1" y1="486.4" x2="643.1" y2="487.6" stroke="#3a3a3a" stroke-width="0.9"/>
<text x="371.6" y="497.8" font-size="11" fill="#1a1a1a" text-anchor="middle" font-weight="normal" >50</text>
<text x="427.8" y="497.8" font-size="11" fill="#1a1a1a" text-anchor="middle" font-weight="normal" >45</text>
<text x="502.4" y="497.8" font-size="11" fill="#1a1a1a" text-anchor="middle" font-weight="normal" >30</text>
<text x="558.7" y="497.8" font-size="11" fill="#1a1a1a" text-anchor="middle" font-weight="normal" >25</text>
<text x="615.0" y="497.8" font-size="11" fill="#1a1a1a" text-anchor="middle" font-weight="normal" >20</text>
<line x1="652.0" y1="329.9" x2="653.8" y2="329.9" stroke="#3a3a3a" stroke-width="0.9"/>
<line x1="652.0" y1="344.3" x2="653.3" y2="344.3" stroke="#3a3a3a" stroke-width="0.9"/>
<line x1="652.0" y1="358.8" x2="653.8" y2="358.8" stroke="#3a3a3a" stroke-width="0.9"/>
<line x1="652.0" y1="373.2" x2="653.3" y2="373.2" stroke="#3a3a3a" stroke-width="0.9"/>
<line x1="652.0" y1="387.7" x2="653.8" y2="387.7" stroke="#3a3a3a" stroke-width="0.9"/>
<line x1="652.0" y1="402.1" x2="653.3" y2="402.1" stroke="#3a3a3a" stroke-width="0.9"/>
<line x1="652.0" y1="416.6" x2="653.8" y2="416.6" stroke="#3a3a3a" stroke-width="0.9"/>
<line x1="652.0" y1="431.0" x2="653.3" y2="431.0" stroke="#3a3a3a" stroke-width="0.9"/>
<line x1="652.0" y1="445.5" x2="653.8" y2="445.5" stroke="#3a3a3a" stroke-width="0.9"/>
<line x1="652.0" y1="459.9" x2="653.3" y2="459.9" stroke="#3a3a3a" stroke-width="0.9"/>
<line x1="652.0" y1="474.4" x2="653.8" y2="474.4" stroke="#3a3a3a" stroke-width="0.9"/>
<text x="654.7" y="333.8" font-size="11" fill="#1a1a1a" text-anchor="start" font-weight="normal" >60</text>
<text x="654.7" y="362.7" font-size="11" fill="#1a1a1a" text-anchor="start" font-weight="normal" >65</text>
<text x="654.7" y="391.6" font-size="11" fill="#1a1a1a" text-anchor="start" font-weight="normal" >70</text>
<text x="654.7" y="420.5" font-size="11" fill="#1a1a1a" text-anchor="start" font-weight="normal" >75</text>
<text x="654.7" y="449.4" font-size="11" fill="#1a1a1a" text-anchor="start" font-weight="normal" >80</text>
<text x="654.7" y="478.3" font-size="11" fill="#1a1a1a" text-anchor="start" font-weight="normal" >85</text>
<text x="506.4" y="509.6" font-size="11" fill="#1a1a1a" text-anchor="middle">SQ-<tspan font-size="6.6" dy="-4">13</tspan><tspan dy="4">C chemical shift [ppm]</tspan></text>
<text transform="translate(683,402.6) rotate(-90)" font-size="11" fill="#1a1a1a" text-anchor="middle">DQ-<tspan font-size="6.6" dy="-4">13</tspan><tspan dy="4">C chemical shift [ppm]</tspan></text>
<line x1="70.7" y1="361.3" x2="275.5" y2="361.3" stroke="#0e870e" stroke-width="1.3" stroke-dasharray="1.2,2.95" stroke-dashoffset="0"/>
<line x1="37.6" y1="431.9" x2="172.0" y2="431.9" stroke="#0e870e" stroke-width="1.3" stroke-dasharray="1.2,2.95" stroke-dashoffset="0"/>
<line x1="22.2" y1="444.9" x2="156.0" y2="444.9" stroke="#ff1a1a" stroke-width="1.3" stroke-dasharray="1.2,2.95" stroke-dashoffset="0"/>
<line x1="423.0" y1="349.9" x2="623.0" y2="349.9" stroke="#0e870e" stroke-width="1.3" stroke-dasharray="1.2,2.95" stroke-dashoffset="0"/>
<line x1="389.5" y1="425.6" x2="502.0" y2="425.6" stroke="#ff1a1a" stroke-width="1.3" stroke-dasharray="1.2,2.95" stroke-dashoffset="0"/>
<line x1="389.5" y1="427.4" x2="502.0" y2="427.4" stroke="#0e870e" stroke-width="1.3" stroke-dasharray="1.2,2.95" stroke-dashoffset="0"/>
<line x1="389.5" y1="429.4" x2="502.0" y2="429.4" stroke="#ff1a1a" stroke-width="1.3" stroke-dasharray="1.2,2.95" stroke-dashoffset="2"/>
<path d="M58.00,338.20 C58.92,336.95 60.85,336.33 62.10,336.20 C63.35,336.07 64.37,336.02 65.50,337.40 C66.63,338.78 68.02,341.63 68.90,344.50 C69.78,347.37 70.37,351.10 70.80,354.60 C71.23,358.10 71.47,362.10 71.50,365.50 C71.53,368.90 71.38,372.08 71.00,375.00 C70.62,377.92 69.87,380.93 69.20,383.00 C68.53,385.07 67.65,387.07 67.00,387.40 C66.35,387.73 65.87,385.82 65.30,385.00 C64.73,384.18 64.12,382.40 63.60,382.50 C63.08,382.60 62.72,385.08 62.20,385.60 C61.68,386.12 61.10,386.17 60.50,385.60 C59.90,385.03 59.18,383.73 58.60,382.20 C58.02,380.67 57.40,379.18 57.00,376.40 C56.60,373.62 56.33,369.13 56.20,365.50 C56.07,361.87 56.13,358.23 56.20,354.60 C56.27,350.97 56.30,346.43 56.60,343.70 C56.90,340.97 57.08,339.45 58.00,338.20Z" fill="#b4000c"/>
<path d="M59.00,340.00 C59.65,338.72 61.10,338.38 62.10,338.30 C63.10,338.22 64.13,338.22 65.00,339.50 C65.87,340.78 66.70,343.25 67.30,346.00 C67.90,348.75 68.33,352.67 68.60,356.00 C68.87,359.33 68.97,362.67 68.90,366.00 C68.83,369.33 68.55,373.08 68.20,376.00 C67.85,378.92 67.28,382.50 66.80,383.50 C66.32,384.50 65.85,382.62 65.30,382.00 C64.75,381.38 64.05,379.63 63.50,379.80 C62.95,379.97 62.50,382.47 62.00,383.00 C61.50,383.53 60.97,383.67 60.50,383.00 C60.03,382.33 59.58,381.17 59.20,379.00 C58.82,376.83 58.40,373.50 58.20,370.00 C58.00,366.50 58.00,362.00 58.00,358.00 C58.00,354.00 58.03,349.00 58.20,346.00 C58.37,343.00 58.35,341.28 59.00,340.00Z" fill="#94000a"/>
<line x1="58.7" y1="350.0" x2="58.7" y2="380.0" stroke="#f0c8cc" stroke-width="0.5" stroke-dasharray="1.6,0.9"/>
<line x1="62.5" y1="341.0" x2="62.5" y2="382.0" stroke="#f0c8cc" stroke-width="0.5" stroke-dasharray="1.6,0.9"/>
<line x1="66.9" y1="345.0" x2="66.9" y2="383.0" stroke="#f0c8cc" stroke-width="0.5" stroke-dasharray="1.6,0.9"/>
<g><ellipse cx="75.9" cy="387.0" rx="1.8" ry="13.8" fill="#d0101a"/><ellipse cx="75.9" cy="387.0" rx="1.30" ry="12.97" fill="#a8000c"/><line x1="75.9" y1="376.0" x2="75.9" y2="398.0" stroke="#f4d0d4" stroke-width="0.55" stroke-dasharray="1.6,0.9"/><ellipse cx="75.9" cy="387.0" rx="0.81" ry="11.73" fill="none" stroke="#c83040" stroke-width="0.3"/></g>
<path d="M277.30,338.90 C278.02,338.25 279.12,338.58 280.00,338.60 C280.88,338.62 281.93,338.52 282.60,339.00 C283.27,339.48 283.57,340.00 284.00,341.50 C284.43,343.00 284.77,345.75 285.20,348.00 C285.63,350.25 286.23,352.67 286.60,355.00 C286.97,357.33 287.33,359.83 287.40,362.00 C287.47,364.17 287.30,365.83 287.00,368.00 C286.70,370.17 286.07,372.83 285.60,375.00 C285.13,377.17 284.75,379.23 284.20,381.00 C283.65,382.77 283.08,384.70 282.30,385.60 C281.52,386.50 280.38,386.47 279.50,386.40 C278.62,386.33 277.65,386.27 277.00,385.20 C276.35,384.13 275.92,382.53 275.60,380.00 C275.28,377.47 275.20,373.33 275.10,370.00 C275.00,366.67 274.98,363.33 275.00,360.00 C275.02,356.67 275.08,352.92 275.20,350.00 C275.32,347.08 275.35,344.35 275.70,342.50 C276.05,340.65 276.58,339.55 277.30,338.90Z" fill="#b8000e"/>
<path d="M277.50,340.50 C278.13,339.20 279.22,340.12 280.00,340.20 C280.78,340.28 281.65,339.70 282.20,341.00 C282.75,342.30 282.97,345.50 283.30,348.00 C283.63,350.50 283.98,353.50 284.20,356.00 C284.42,358.50 284.63,360.50 284.60,363.00 C284.57,365.50 284.27,368.33 284.00,371.00 C283.73,373.67 283.42,376.83 283.00,379.00 C282.58,381.17 282.12,383.03 281.50,384.00 C280.88,384.97 280.02,384.88 279.30,384.80 C278.58,384.72 277.70,384.97 277.20,383.50 C276.70,382.03 276.50,379.58 276.30,376.00 C276.10,372.42 276.02,366.67 276.00,362.00 C275.98,357.33 275.95,351.58 276.20,348.00 C276.45,344.42 276.87,341.80 277.50,340.50Z" fill="#98000a"/>
<line x1="278.4" y1="342.0" x2="278.4" y2="383.0" stroke="#f0c8cc" stroke-width="0.5" stroke-dasharray="1.6,0.9"/>
<ellipse cx="286.2" cy="363" rx="1.6" ry="5.5" fill="none" stroke="#f0a0a8" stroke-width="0.45"/>
<g transform="rotate(-1 33.0 433.0)"><ellipse cx="33.0" cy="433.0" rx="3.9" ry="22.4" fill="#cc000c"/><ellipse cx="33.0" cy="433.0" rx="2.81" ry="21.06" fill="#98000a"/><line x1="33.0" y1="415.1" x2="33.0" y2="450.9" stroke="#f4d0d4" stroke-width="0.55" stroke-dasharray="1.6,0.9"/><ellipse cx="33.0" cy="433.0" rx="1.75" ry="19.04" fill="none" stroke="#c83040" stroke-width="0.3"/></g>
<g><ellipse cx="18.00" cy="443.70" rx="2.10" ry="12.80" fill="#f6c8cc" stroke="#d0000c" stroke-width="0.8"/><ellipse cx="18.00" cy="443.70" rx="1.54" ry="12.29" fill="none" stroke="#d0000c" stroke-width="0.8"/><ellipse cx="18.00" cy="443.70" rx="0.98" ry="11.78" fill="none" stroke="#d0000c" stroke-width="0.8"/></g>
<g><ellipse cx="174.6" cy="432.2" rx="4.8" ry="22.4" fill="#cc000c"/><ellipse cx="174.6" cy="432.2" rx="3.46" ry="21.06" fill="#98000a"/><line x1="174.6" y1="414.3" x2="174.6" y2="450.1" stroke="#f4d0d4" stroke-width="0.55" stroke-dasharray="1.6,0.9"/><ellipse cx="174.6" cy="432.2" rx="2.16" ry="19.04" fill="none" stroke="#c83040" stroke-width="0.3"/></g>
<path d="M160.00,438.40 C160.23,438.65 160.68,439.73 160.90,441.00 C161.12,442.27 161.23,444.17 161.30,446.00 C161.37,447.83 161.40,450.30 161.30,452.00 C161.20,453.70 161.15,455.25 160.70,456.20 C160.25,457.15 159.28,457.57 158.60,457.70 C157.92,457.83 156.98,457.53 156.60,457.00 C156.22,456.47 156.20,455.83 156.30,454.50 C156.40,453.17 156.82,450.92 157.20,449.00 C157.58,447.08 158.22,444.58 158.60,443.00 C158.98,441.42 159.27,440.27 159.50,439.50 C159.73,438.73 159.77,438.15 160.00,438.40Z" fill="#fde4e6" stroke="#e01020" stroke-width="0.55"/><line x1="160.0" y1="439.5" x2="157.6" y2="457.0" stroke="#e01020" stroke-width="0.4"/><line x1="160.0" y1="439.5" x2="158.5" y2="456.9" stroke="#e01020" stroke-width="0.4"/><line x1="160.0" y1="439.5" x2="159.3" y2="456.7" stroke="#e01020" stroke-width="0.4"/><line x1="160.0" y1="439.5" x2="160.2" y2="456.6" stroke="#e01020" stroke-width="0.4"/><path d="M157.60,446.50 Q159.4,447.90 161.2,446.20" fill="none" stroke="#e01020" stroke-width="0.4"/><path d="M157.30,449.10 Q159.4,450.50 161.2,448.80" fill="none" stroke="#e01020" stroke-width="0.4"/><path d="M157.00,451.70 Q159.4,453.10 161.2,451.40" fill="none" stroke="#e01020" stroke-width="0.4"/><path d="M156.70,454.30 Q159.4,455.70 161.2,454.00" fill="none" stroke="#e01020" stroke-width="0.4"/>
<line x1="168.1" y1="433.5" x2="168.1" y2="438.3" stroke="#ff1a1a" stroke-width="0.8"/>
<g><ellipse cx="419.4" cy="349.3" rx="4.0" ry="29.4" fill="#c8000e"/><ellipse cx="419.4" cy="349.3" rx="2.88" ry="27.64" fill="#a8000c"/><line x1="419.4" y1="325.8" x2="419.4" y2="372.8" stroke="#f4d0d4" stroke-width="0.55" stroke-dasharray="1.6,0.9"/><ellipse cx="419.4" cy="349.3" rx="1.80" ry="24.99" fill="none" stroke="#c83040" stroke-width="0.3"/></g>
<g><ellipse cx="419.40" cy="349.30" rx="2.60" ry="26.00" fill="none" stroke="#f4b0b8" stroke-width="0.35"/><ellipse cx="419.40" cy="349.30" rx="1.91" ry="25.31" fill="none" stroke="#f4b0b8" stroke-width="0.35"/><ellipse cx="419.40" cy="349.30" rx="1.21" ry="24.61" fill="none" stroke="#f4b0b8" stroke-width="0.35"/></g>
<g><ellipse cx="626.4" cy="347.4" rx="3.6" ry="22.6" fill="#d0000e"/><ellipse cx="626.4" cy="347.4" rx="2.59" ry="21.24" fill="#b4000c"/><line x1="626.4" y1="329.3" x2="626.4" y2="365.5" stroke="#f4d0d4" stroke-width="0.55" stroke-dasharray="1.6,0.9"/><ellipse cx="626.4" cy="347.4" rx="1.62" ry="19.21" fill="none" stroke="#c83040" stroke-width="0.3"/></g>
<g><ellipse cx="626.40" cy="347.40" rx="2.40" ry="20.00" fill="none" stroke="#f4b0b8" stroke-width="0.35"/><ellipse cx="626.40" cy="347.40" rx="1.76" ry="19.47" fill="none" stroke="#f4b0b8" stroke-width="0.35"/><ellipse cx="626.40" cy="347.40" rx="1.12" ry="18.93" fill="none" stroke="#f4b0b8" stroke-width="0.35"/></g>
<g transform="rotate(6 397 432)"><ellipse cx="393.60" cy="433.50" rx="3.10" ry="27.20" fill="none" stroke="#c80814" stroke-width="0.45"/><ellipse cx="394.45" cy="432.90" rx="3.05" ry="26.30" fill="none" stroke="#c80814" stroke-width="0.45"/><ellipse cx="395.30" cy="432.30" rx="3.00" ry="25.40" fill="none" stroke="#c80814" stroke-width="0.45"/><ellipse cx="396.15" cy="431.70" rx="2.95" ry="24.50" fill="none" stroke="#c80814" stroke-width="0.45"/><ellipse cx="397.00" cy="431.10" rx="2.90" ry="23.60" fill="none" stroke="#c80814" stroke-width="0.45"/><ellipse cx="397.85" cy="430.50" rx="2.85" ry="22.70" fill="none" stroke="#c80814" stroke-width="0.45"/><ellipse cx="398.70" cy="429.90" rx="2.80" ry="21.80" fill="none" stroke="#c80814" stroke-width="0.45"/><ellipse cx="399.55" cy="429.30" rx="2.75" ry="20.90" fill="none" stroke="#c80814" stroke-width="0.45"/><ellipse cx="400.40" cy="428.70" rx="2.70" ry="20.00" fill="none" stroke="#c80814" stroke-width="0.45"/></g>
<g><ellipse cx="386.4" cy="425" rx="4.9" ry="35" fill="#cc000c"/><ellipse cx="386.4" cy="425" rx="3.53" ry="32.90" fill="#98000a"/><line x1="386.4" y1="397.0" x2="386.4" y2="453.0" stroke="#f4d0d4" stroke-width="0.55" stroke-dasharray="1.6,0.9"/><ellipse cx="386.4" cy="425" rx="2.21" ry="29.75" fill="none" stroke="#c83040" stroke-width="0.3"/></g>
<g><ellipse cx="523.80" cy="423.60" rx="4.10" ry="21.00" fill="#fdf0f0" stroke="#c80814" stroke-width="0.45"/><ellipse cx="523.70" cy="424.00" rx="3.74" ry="20.16" fill="none" stroke="#c80814" stroke-width="0.45"/><ellipse cx="523.60" cy="424.40" rx="3.37" ry="19.32" fill="none" stroke="#c80814" stroke-width="0.45"/><ellipse cx="523.50" cy="424.80" rx="3.01" ry="18.48" fill="none" stroke="#c80814" stroke-width="0.45"/><ellipse cx="523.40" cy="425.20" rx="2.64" ry="17.64" fill="none" stroke="#c80814" stroke-width="0.45"/><ellipse cx="523.30" cy="425.60" rx="2.28" ry="16.80" fill="none" stroke="#c80814" stroke-width="0.45"/><ellipse cx="523.20" cy="426.00" rx="1.91" ry="15.96" fill="none" stroke="#c80814" stroke-width="0.45"/><ellipse cx="523.10" cy="426.40" rx="1.55" ry="15.12" fill="none" stroke="#c80814" stroke-width="0.45"/><ellipse cx="523.00" cy="426.80" rx="1.18" ry="14.28" fill="none" stroke="#c80814" stroke-width="0.45"/></g>
<g><ellipse cx="515.80" cy="431.80" rx="4.30" ry="15.80" fill="#fdf0f0" stroke="#c80814" stroke-width="0.45"/><ellipse cx="515.90" cy="432.00" rx="3.87" ry="15.09" fill="none" stroke="#c80814" stroke-width="0.45"/><ellipse cx="516.00" cy="432.20" rx="3.44" ry="14.38" fill="none" stroke="#c80814" stroke-width="0.45"/><ellipse cx="516.10" cy="432.40" rx="3.01" ry="13.67" fill="none" stroke="#c80814" stroke-width="0.45"/><ellipse cx="516.20" cy="432.60" rx="2.58" ry="12.96" fill="none" stroke="#c80814" stroke-width="0.45"/><ellipse cx="516.30" cy="432.80" rx="2.15" ry="12.25" fill="none" stroke="#c80814" stroke-width="0.45"/><ellipse cx="516.40" cy="433.00" rx="1.72" ry="11.53" fill="none" stroke="#c80814" stroke-width="0.45"/><ellipse cx="516.50" cy="433.20" rx="1.29" ry="10.82" fill="none" stroke="#c80814" stroke-width="0.45"/></g>
<g><ellipse cx="507.0" cy="427.0" rx="5.2" ry="27.3" fill="#cc000c"/><ellipse cx="507.0" cy="427.0" rx="3.74" ry="25.66" fill="#98000a"/><line x1="507.0" y1="405.2" x2="507.0" y2="448.8" stroke="#f4d0d4" stroke-width="0.55" stroke-dasharray="1.6,0.9"/><ellipse cx="507.0" cy="427.0" rx="2.34" ry="23.20" fill="none" stroke="#c83040" stroke-width="0.3"/></g>
<g><ellipse cx="532.40" cy="428.20" rx="1.60" ry="9.60" fill="none" stroke="#e81018" stroke-width="0.55"/><ellipse cx="532.40" cy="428.20" rx="1.17" ry="8.32" fill="none" stroke="#e81018" stroke-width="0.55"/><ellipse cx="532.40" cy="428.20" rx="0.75" ry="7.04" fill="none" stroke="#e81018" stroke-width="0.55"/></g>
<g><ellipse cx="552.40" cy="418.60" rx="1.10" ry="7.00" fill="none" stroke="#e0202a" stroke-width="0.6"/></g>
<g><ellipse cx="591.40" cy="436.70" rx="1.00" ry="6.30" fill="none" stroke="#e0202a" stroke-width="0.6"/></g>
<ellipse cx="561.0" cy="344.4" rx="1.0" ry="4.4" fill="#ff6868"/>
<polygon points="62.90,361.50 48.77,355.64 51.10,354.47 51.03,351.86" fill="#008000" stroke="#008000" stroke-width="0.35" stroke-linejoin="round"/>
<polygon points="77.00,387.50 80.78,376.50 81.79,378.63 84.12,378.30" fill="#ff0a0a" stroke="#ff0a0a" stroke-width="0.35" stroke-linejoin="round"/>
<polygon points="277.90,361.60 266.77,353.82 269.12,353.36 269.43,350.98" fill="#008000" stroke="#008000" stroke-width="0.35" stroke-linejoin="round"/>
<polygon points="33.30,431.90 41.52,421.89 41.76,424.24 44.08,424.71" fill="#008000" stroke="#008000" stroke-width="0.35" stroke-linejoin="round"/>
<polygon points="18.60,446.20 26.52,455.58 24.08,455.40 23.08,457.62" fill="#ff0a0a" stroke="#ff0a0a" stroke-width="0.35" stroke-linejoin="round"/>
<polygon points="174.00,430.20 182.20,416.17 183.13,418.70 185.80,419.03" fill="#008000" stroke="#008000" stroke-width="0.35" stroke-linejoin="round"/>
<polygon points="157.90,449.60 151.50,458.16 151.14,455.66 148.70,455.04" fill="#ff0a0a" stroke="#ff0a0a" stroke-width="0.35" stroke-linejoin="round"/>
<polygon points="420.30,350.80 410.84,342.66 413.26,342.23 414.16,339.94" fill="#008000" stroke="#008000" stroke-width="0.35" stroke-linejoin="round"/>
<polygon points="625.50,349.00 615.84,342.61 618.16,341.93 618.76,339.59" fill="#008000" stroke="#008000" stroke-width="0.35" stroke-linejoin="round"/>
<polygon points="386.70,427.60 377.50,421.59 379.68,421.02 380.10,418.81" fill="#008000" stroke="#008000" stroke-width="0.35" stroke-linejoin="round"/>
<polygon points="398.40,426.10 404.05,415.93 404.87,418.30 407.35,418.67" fill="#ff0a0a" stroke="#ff0a0a" stroke-width="0.35" stroke-linejoin="round"/>
<polygon points="395.40,430.80 404.69,437.07 402.10,437.76 401.31,440.33" fill="#ff0a0a" stroke="#ff0a0a" stroke-width="0.35" stroke-linejoin="round"/>
<polygon points="506.40,427.80 498.32,438.27 497.93,436.00 495.68,435.53" fill="#008000" stroke="#008000" stroke-width="0.35" stroke-linejoin="round"/>
<polygon points="515.20,426.70 511.70,400.98 514.44,402.20 517.10,400.82" fill="#ff0a0a" stroke="#ff0a0a" stroke-width="0.35" stroke-linejoin="round"/>
<polygon points="524.00,424.90 530.39,413.59 531.56,416.54 534.61,417.41" fill="#ff0a0a" stroke="#ff0a0a" stroke-width="0.35" stroke-linejoin="round"/>
<text x="16.93" y="348.30" font-size="11.5" fill="#0e870e">13</text><text x="30.07" y="343.60" font-size="7" fill="#0e870e">1</text><text x="36.06" y="348.30" font-size="11.5" fill="#0e870e">P</text><text x="43.33" y="350.60" font-size="7" fill="#0e870e">L</text>
<text x="80.53" y="374.50" font-size="11.5" fill="#ff1a1a">13</text><text x="93.27" y="369.80" font-size="7" fill="#ff1a1a">1</text><text x="99.26" y="374.50" font-size="11.5" fill="#ff1a1a">P</text><text x="106.48" y="376.70" font-size="7.5" fill="#ff1a1a">M</text>
<text x="246.03" y="347.00" font-size="11.5" fill="#0e870e">12</text><text x="260.96" y="347.00" font-size="11.5" fill="#0e870e">P</text><text x="268.33" y="349.20" font-size="7" fill="#0e870e">L</text>
<text x="43.56" y="422.60" font-size="11.5" fill="#0e870e">3</text><text x="49.77" y="417.80" font-size="7" fill="#0e870e">1</text><text x="56.16" y="422.50" font-size="11.5" fill="#0e870e">P</text><text x="63.53" y="424.70" font-size="7" fill="#0e870e">L</text>
<text x="13.46" y="469.10" font-size="11.5" fill="#ff1a1a">3</text><text x="21.27" y="464.50" font-size="7" fill="#ff1a1a">1</text><text x="26.96" y="469.00" font-size="11.5" fill="#ff1a1a">P</text><text x="34.10" y="471.20" font-size="11" fill="#ff1a1a">M</text>
<text x="180.33" y="411.60" font-size="11.5" fill="#0e870e">2</text><text x="188.26" y="411.60" font-size="11.5" fill="#0e870e">P</text><text x="196.63" y="414.50" font-size="7" fill="#0e870e">L</text>
<text x="135.23" y="468.60" font-size="11.5" fill="#ff1a1a">2</text><text x="143.56" y="468.60" font-size="11.5" fill="#ff1a1a">P</text><text x="151.00" y="470.80" font-size="8.5" fill="#ff1a1a">M</text>
<line x1="82.6" y1="390.4" x2="82.6" y2="386.8" stroke="#ff1a1a" stroke-width="1.6" stroke-linecap="round"/><line x1="82.6" y1="390.4" x2="86.0" y2="389.3" stroke="#ff1a1a" stroke-width="1.6" stroke-linecap="round"/><line x1="82.6" y1="390.4" x2="84.7" y2="393.3" stroke="#ff1a1a" stroke-width="1.6" stroke-linecap="round"/><line x1="82.6" y1="390.4" x2="80.5" y2="393.3" stroke="#ff1a1a" stroke-width="1.6" stroke-linecap="round"/><line x1="82.6" y1="390.4" x2="79.2" y2="389.3" stroke="#ff1a1a" stroke-width="1.6" stroke-linecap="round"/>
<text x="394.21" y="336.00" font-size="11.5" fill="#0e870e">7</text><text x="403.06" y="336.00" font-size="11.5" fill="#0e870e">P</text><text x="410.43" y="338.60" font-size="7" fill="#0e870e">L</text>
<text x="591.91" y="335.60" font-size="11.5" fill="#0e870e">8</text><text x="599.17" y="331.00" font-size="7" fill="#0e870e">1</text><text x="605.16" y="335.60" font-size="11.5" fill="#0e870e">P</text><text x="612.03" y="337.80" font-size="7" fill="#0e870e">L</text>
<text x="353.93" y="414.80" font-size="11.5" fill="#0e870e">18</text><text x="367.76" y="414.80" font-size="11.5" fill="#0e870e">P</text><text x="375.23" y="417.40" font-size="7" fill="#0e870e">L</text>
<text x="404.71" y="413.50" font-size="11.5" fill="#ff1a1a">7</text><text x="409.96" y="413.50" font-size="11.5" fill="#ff1a1a">P</text><text x="417.54" y="414.90" font-size="8" fill="#ff1a1a">M</text>
<text x="406.13" y="447.60" font-size="11.5" fill="#ff1a1a">18</text><text x="420.46" y="447.60" font-size="11.5" fill="#ff1a1a">P</text><text x="427.80" y="450.10" font-size="8.5" fill="#ff1a1a">M</text>
<text x="494.33" y="395.60" font-size="11.5" fill="#ff1a1a">17</text><text x="506.67" y="391.60" font-size="7" fill="#ff1a1a">1</text><text x="513.16" y="395.60" font-size="11.5" fill="#ff1a1a">P</text><text x="520.20" y="397.70" font-size="8.5" fill="#ff1a1a">M</text>
<text x="533.61" y="409.80" font-size="11.5" fill="#ff1a1a">8</text><text x="539.87" y="405.60" font-size="7" fill="#ff1a1a">1</text><text x="546.76" y="409.80" font-size="11.5" fill="#ff1a1a">P</text><text x="553.30" y="413.00" font-size="8.5" fill="#ff1a1a">M</text>
<text x="464.43" y="446.30" font-size="11.5" fill="#0e870e">17</text><text x="477.27" y="441.60" font-size="7" fill="#0e870e">1</text><text x="483.06" y="446.30" font-size="11.5" fill="#0e870e">P</text><text x="490.43" y="448.70" font-size="7" fill="#0e870e">L</text></svg>
</body></html>
